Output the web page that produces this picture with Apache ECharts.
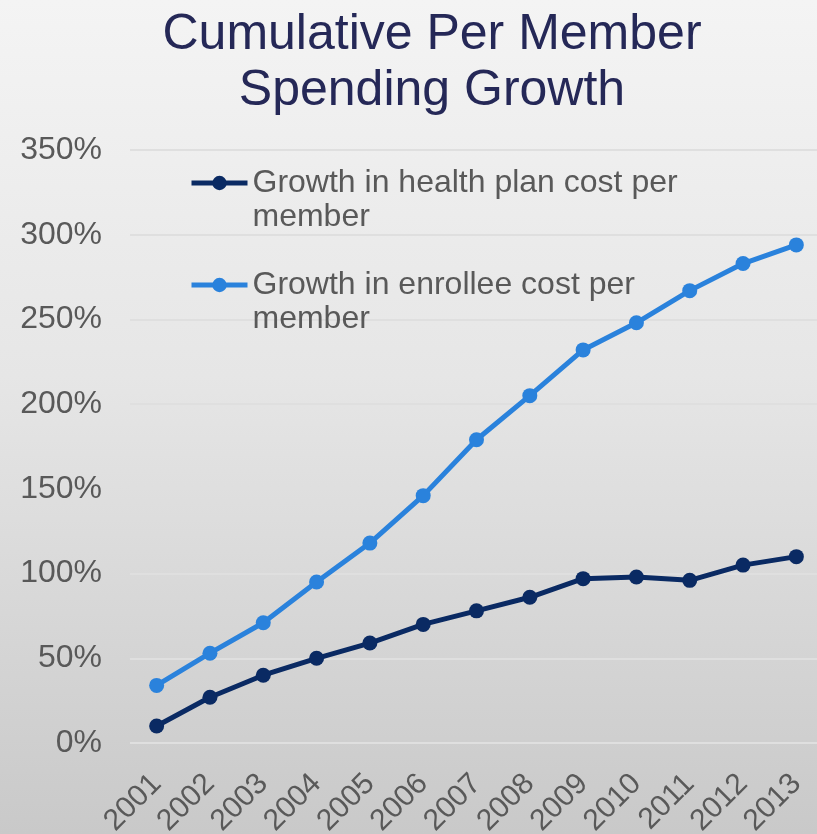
<!DOCTYPE html>
<html>
<head>
<meta charset="utf-8">
<title>Cumulative Per Member Spending Growth</title>
<script src="https://cdn.jsdelivr.net/npm/echarts@6/dist/echarts.min.js"></script>
<style>
  html, body { margin: 0; padding: 0; }
  #chart {
    width: 817px; height: 834px;
    background: linear-gradient(to bottom, #f4f4f4 0%, #e6e6e6 45%, #c9c9c9 100%);
  }
</style>
</head>
<body>
<div id="chart"></div>
<script>
// Years on the category axis
const years = ['2001', '2002', '2003', '2004', '2005', '2006', '2007',
               '2008', '2009', '2010', '2011', '2012', '2013'];

// Cumulative growth since the base year, in percent
const healthPlanCost = [10, 27, 40, 50, 59, 70, 78, 86, 97, 98, 96, 105, 110];
const enrolleeCost   = [34, 53, 71, 95, 118, 146, 179, 205, 232, 248, 267, 283, 294];

// Value-axis settings (percent)
const yMin = 0, yMax = 350, yStep = 50;

const seriesNames = [
  'Growth in health plan cost per\nmember',
  'Growth in enrollee cost per\nmember'
];

const chart = echarts.init(document.getElementById('chart'), null, { renderer: 'canvas' });

const font = '"Liberation Sans", Arial, sans-serif';
const legendLine = 34;

chart.setOption({
  backgroundColor: 'transparent',
  animation: false,
  title: {
    text: 'Cumulative Per Member\nSpending Growth',
    left: 427,
    textAlign: 'center',
    top: 2,
    textStyle: {
      fontFamily: font,
      fontSize: 50,
      fontWeight: 'normal',
      color: '#252857',
      lineHeight: 56
    }
  },
  legend: {
    orient: 'vertical',
    left: 184,
    top: 127,
    itemWidth: 56,
    itemHeight: 18,
    itemGap: 0,
    data: seriesNames,
    lineStyle: { width: 5 },
    // a blank first line keeps the marker level with the first line of text
    formatter: function (name) {
      return '{pad| }\n' + name.split('\n').map(function (s) { return '{t|' + s + '}'; }).join('\n');
    },
    textStyle: {
      fontFamily: font,
      fontSize: 32,
      color: '#595959',
      lineHeight: legendLine,
      rich: {
        pad: { fontSize: 10, lineHeight: legendLine },
        t: { fontFamily: font, fontSize: 32, color: '#595959', lineHeight: legendLine }
      }
    }
  },
  grid: {
    left: 130,
    right: -6,
    top: 150,
    bottom: 91,
    containLabel: false,
    outerBoundsMode: 'none'
  },
  xAxis: {
    type: 'category',
    data: years,
    boundaryGap: true,
    axisLine: { show: false },
    axisTick: { show: false },
    axisLabel: {
      rotate: 45,
      margin: 36,
      interval: 0,
      fontFamily: font,
      fontSize: 30,
      color: '#595959'
    }
  },
  yAxis: {
    type: 'value',
    min: yMin,
    max: yMax,
    interval: yStep,
    axisLine: { show: false },
    axisTick: { show: false },
    axisLabel: {
      formatter: '{value}%',
      margin: 28,
      fontFamily: font,
      fontSize: 32,
      color: '#595959'
    },
    splitLine: { lineStyle: { color: '#dfdfdf', width: 2 } }
  },
  series: [
    {
      name: seriesNames[0],
      type: 'line',
      data: healthPlanCost,
      symbol: 'circle',
      symbolSize: 15,
      lineStyle: { color: '#0a2a63', width: 5 },
      itemStyle: { color: '#0a2a63' },
      z: 3
    },
    {
      name: seriesNames[1],
      type: 'line',
      data: enrolleeCost,
      symbol: 'circle',
      symbolSize: 15,
      lineStyle: { color: '#2a82dc', width: 5 },
      itemStyle: { color: '#2a82dc' },
      z: 2
    }
  ]
});
</script>
</body>
</html>
